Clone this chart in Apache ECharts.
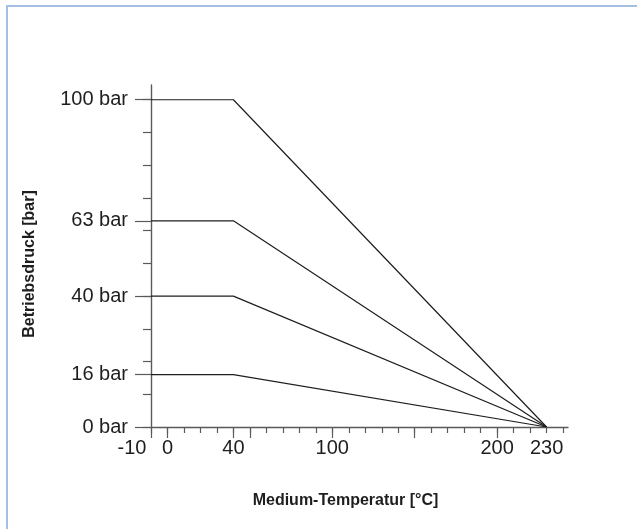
<!DOCTYPE html>
<html>
<head>
<meta charset="utf-8">
<script src="https://cdn.jsdelivr.net/npm/echarts@6/dist/echarts.min.js"></script>
<style>
  html, body { margin: 0; padding: 0; background: #fff; }
  #frame { position: absolute; left: 6px; top: 5px; width: 700px; height: 600px;
           border-top: 2px solid #a3bfe2; border-left: 2px solid #a3bfe2; }
  #myChart { position: absolute; left: 0; top: 0; width: 637px; height: 529px; }
</style>
</head>
<body>
<div id="frame"></div>
<div id="myChart"></div>
<script>
  // Kennlinien: Druck über Temperatur
  var pressures = [100, 63, 40, 16];
  var tempKnee = 40;       // bis hier voller Druck
  var tempStart = -10;
  var tempEnd = 230;       // Druck 0

  var xLabels = [-10, 0, 40, 100, 200, 230];
  var xMajorTicks = [-10, 0, 40, 50, 100, 150, 200];
  var xMinorTicks = [-10, 0, 10, 20, 30, 40, 50, 60, 70, 80, 90, 100, 110, 120, 130, 140, 150, 160, 170, 180, 190, 200, 210, 220, 230, 240];
  var yLabels = [0, 16, 40, 63, 100];
  var yMinorTicks = [0, 10, 20, 30, 40, 50, 60, 70, 80, 90, 100];

  var font = '"Liberation Sans", Arial, sans-serif';
  var axisColor = '#5a5a5a';

  var myChart = echarts.init(document.getElementById('myChart'));

  var series = pressures.map(function (p) {
    return {
      type: 'line',
      xAxisIndex: 0,
      yAxisIndex: 0,
      symbol: 'none',
      silent: true,
      lineStyle: { color: '#1e1e1e', width: 1.2 },
      data: [[tempStart, p], [tempKnee, p], [tempEnd, 0]]
    };
  });

  myChart.setOption({
    animation: false,
    grid: { left: 151, right: 69, top: 85, bottom: 102, outerBoundsMode: 'none' },
    xAxis: [{
      type: 'value',
      position: 'bottom',
      min: -10,
      max: 243,
      name: 'Medium-Temperatur [°C]',
      nameLocation: 'middle',
      nameGap: 66,
      nameTextStyle: { fontFamily: font, fontWeight: 'bold', fontSize: 16, color: '#1e1e1e', padding: [0, 28, 0, 0] },
      axisLine: { onZero: false, lineStyle: { color: axisColor, width: 1.4 } },
      axisTick: { show: true, length: 6, customValues: xMinorTicks, lineStyle: { color: axisColor, width: 1.2 } },
      axisLabel: {
        customValues: xLabels,
        margin: 11,
        fontFamily: font,
        fontSize: 20,
        color: '#1e1e1e',
        formatter: function (v) {
          // -10 sitzt links neben der Achse, sonst kollidiert es mit 0
          return v === -10 ? '{l|-10}' : String(v);
        },
        rich: { l: { fontFamily: font, fontSize: 20, color: '#1e1e1e', padding: [0, 38, 0, 0] } }
      },
      splitLine: { show: false }
    }, {
      type: 'value',
      position: 'bottom',
      min: -10,
      max: 243,
      axisLine: { show: false, onZero: false },
      axisTick: { show: true, length: 11, customValues: xMajorTicks, lineStyle: { color: axisColor, width: 1.2 } },
      axisLabel: { show: false },
      splitLine: { show: false }
    }],
    yAxis: [{
      type: 'value',
      position: 'left',
      min: 0,
      max: 104.5,
      name: 'Betriebsdruck [bar]',
      nameLocation: 'middle',
      nameGap: 113,
      nameTextStyle: { fontFamily: font, fontWeight: 'bold', fontSize: 16, color: '#1e1e1e', padding: [0, 16, 0, 0] },
      axisLine: { onZero: false, lineStyle: { color: axisColor, width: 1.4 } },
      axisTick: { show: true, length: 8, customValues: yMinorTicks, lineStyle: { color: axisColor, width: 1.2 } },
      axisLabel: { show: false },
      splitLine: { show: false }
    }, {
      type: 'value',
      position: 'left',
      min: 0,
      max: 104.5,
      axisLine: { show: false, onZero: false },
      axisTick: { show: true, length: 16, customValues: yLabels, lineStyle: { color: axisColor, width: 1.2 } },
      axisLabel: { customValues: yLabels, formatter: '{value} bar', margin: 23, fontFamily: font, fontSize: 20, color: '#1e1e1e' },
      splitLine: { show: false }
    }],
    series: series
  });
  window.onresize = myChart.resize;
</script>
</body>
</html>
